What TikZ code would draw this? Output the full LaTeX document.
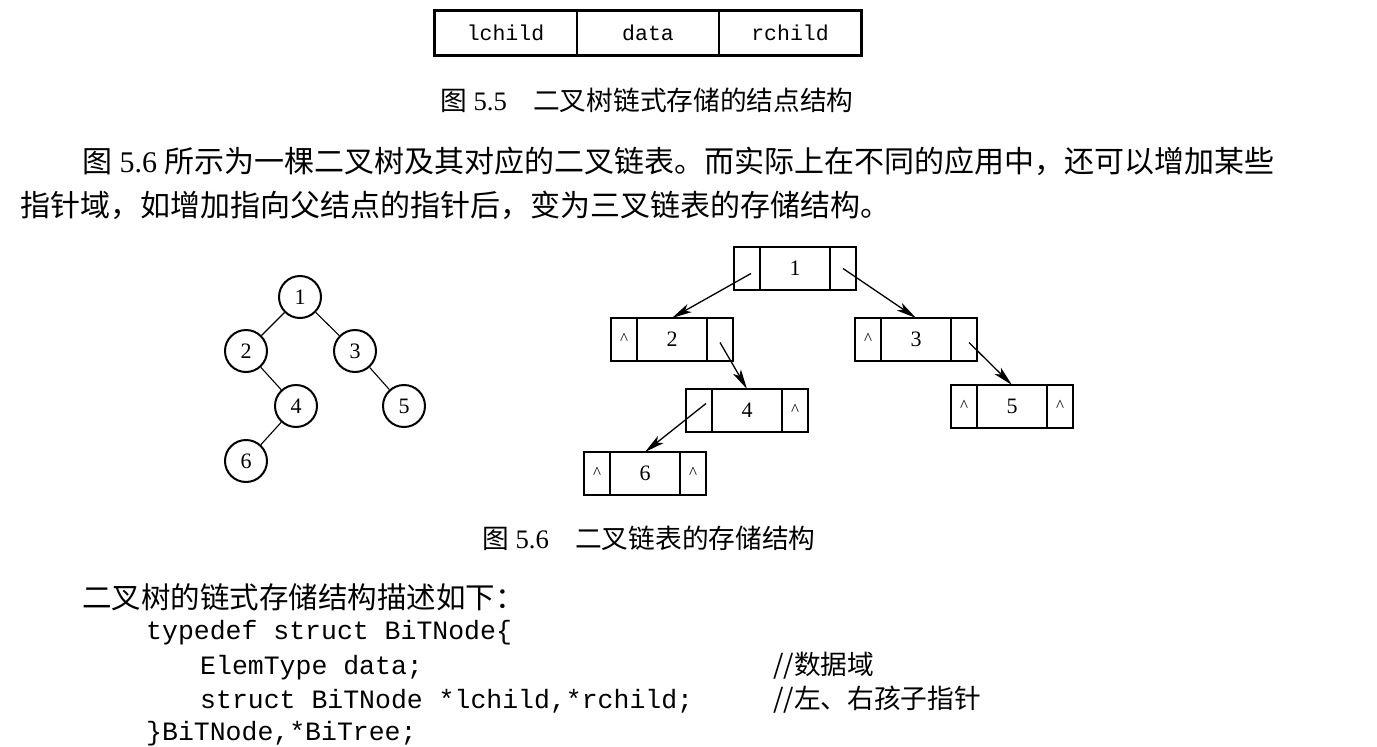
\documentclass[tikz,border=0pt]{standalone}
\usepackage{fontspec}
\setmainfont{Liberation Serif}
\setmonofont{Liberation Mono}
\newfontfamily\cjk{Noto Sans CJK SC}
\usetikzlibrary{arrows.meta}
\newcommand\mylistnode[6]{%
  \node[lcell,anchor=north west] (#1-l) at (#2,#3) {#4};
  \node[dcell,anchor=west] (#1-d) at (#1-l.east) {#5};
  \node[lcell,anchor=west] (#1-r) at (#1-d.east) {#6};
}
\newcommand\nul{\fontsize{17}{17}\selectfont\raisebox{2pt}{\textasciicircum}}
\begin{document}
\begin{tikzpicture}[x=1pt,y=-1pt,
  topcell/.style={draw,line width=1.8pt,minimum height=45pt,inner sep=0pt,outer sep=0pt,
    font=\ttfamily\fontsize{21.5}{22}\selectfont},
  lcell/.style={draw,line width=1.2pt,minimum width=26pt,minimum height=43pt,inner sep=0pt,outer sep=0pt},
  dcell/.style={lcell,minimum width=70pt,font=\fontsize{22}{22}\selectfont},
  tnode/.style={circle,draw,line width=2pt,minimum size=42pt,inner sep=0pt,font=\fontsize{22}{22}\selectfont},
  tedge/.style={line width=1.1pt},
  arr/.style={line width=1.3pt,-{Stealth[length=20pt,width=9pt,inset=5pt]}},
  txt/.style={anchor=base west,inner sep=0pt},
  code/.style={txt,font=\ttfamily\fontsize{26.5}{27}\selectfont},
]
\useasboundingbox[fill=white] (0,0) rectangle (1377,747);

% Fig 5.5 node structure
\node[topcell,minimum width=143pt] (lc) at (505.5,32.5) {lchild};
\node[topcell,minimum width=142pt,anchor=west] (dt) at (lc.east) {data};
\node[topcell,minimum width=142pt,anchor=west] (rc) at (dt.east) {rchild};
\draw[line width=3pt] (lc.north west) rectangle (rc.south east);

\node[txt] (cap55a) at (440,110) {\fontsize{26.7}{27}\selectfont{\cjk 图} 5.5};
\node[txt] (cap55b) at (533,110) {\fontsize{26.7}{27}\selectfont\cjk 二叉树链式存储的结点结构};

% paragraph
\node[txt] (p1) at (82,172) {\fontsize{30}{30}\selectfont{\cjk 图} 5.6 {\cjk 所示为一棵二叉树及其对应的二叉链表。而实际上在不同的应用中，还可以增加某些}};
\node[txt] (p2) at (20,216) {\fontsize{30}{30}\selectfont\cjk 指针域，如增加指向父结点的指针后，变为三叉链表的存储结构。};

% binary tree
\node[tnode] (t1) at (300,297) {1};
\node[tnode] (t2) at (246,351) {2};
\node[tnode] (t3) at (355,351) {3};
\node[tnode] (t4) at (296,406) {4};
\node[tnode] (t5) at (404,406) {5};
\node[tnode] (t6) at (246,461) {6};
\draw[tedge] (t1) -- (t2);
\draw[tedge] (t1) -- (t3);
\draw[tedge] (t2) -- (t4);
\draw[tedge] (t3) -- (t5);
\draw[tedge] (t4) -- (t6);

% binary linked list
\mylistnode{n1}{734}{247}{}{1}{}
\mylistnode{n2}{611}{318}{\nul}{2}{}
\mylistnode{n3}{855}{318}{\nul}{3}{}
\mylistnode{n4}{686}{389}{}{4}{\nul}
\mylistnode{n5}{951}{385}{\nul}{5}{\nul}
\mylistnode{n6}{584}{452}{\nul}{6}{\nul}
\draw[arr] ([shift={(4,5)}]n1-l.center) -- (n2-d.north);
\draw[arr] (n1-r.center) -- (n3-d.north);
\draw[arr] ([shift={(0,3)}]n2-r.center) -- (n4-d.north);
\draw[arr] ([shift={(7,-7)}]n4-l.center) -- (n6-d.north);
\draw[arr] ([shift={(5,3)}]n3-r.center) -- (n5-d.north);

\node[txt] (cap56a) at (482,548) {\fontsize{26.7}{27}\selectfont{\cjk 图} 5.6};
\node[txt] (cap56b) at (575,548) {\fontsize{26.7}{27}\selectfont\cjk 二叉链表的存储结构};

% code description
\node[txt] (desc) at (82,608) {\fontsize{29.5}{30}\selectfont\cjk 二叉树的链式存储结构描述如下：};
\node[code] (c1) at (146,639) {typedef struct BiTNode\{};
\node[code] (c2) at (200,674) {ElemType data;};
\node[code] (c3) at (200,708) {struct BiTNode *lchild,*rchild;};
\node[code] (c4) at (146,740) {\}BiTNode,*BiTree;};
\node[txt] (m2) at (773,674) {\fontsize{26.7}{27}\selectfont\cjk //数据域};
\node[txt] (m3) at (773,708) {\fontsize{26.7}{27}\selectfont\cjk //左、右孩子指针};
\end{tikzpicture}
\end{document}
